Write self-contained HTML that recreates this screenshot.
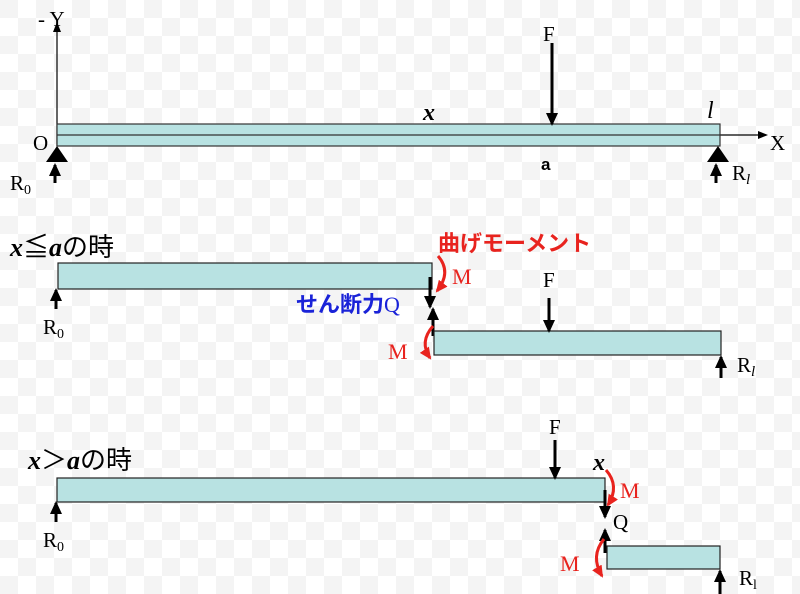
<!DOCTYPE html>
<html><head><meta charset="utf-8"><style>
html,body{margin:0;padding:0;background:#fff;}
svg{display:block}
text{font-family:"Liberation Serif","Noto Serif CJK SC",serif;}
.j{font-family:"Liberation Sans","Noto Sans CJK JP",sans-serif;font-weight:bold;}
</style></head><body>
<svg width="800" height="594" viewBox="0 0 800 594" xmlns="http://www.w3.org/2000/svg">
<defs>
<marker id="ab" markerWidth="10" markerHeight="8" refX="8" refY="4" orient="auto" markerUnits="userSpaceOnUse"><path d="M0,0 L10,4 L0,8 z" fill="#000"/></marker>
<marker id="at" markerWidth="13" markerHeight="12" refX="11" refY="6" orient="auto" markerUnits="userSpaceOnUse"><path d="M0,0 L13,6 L0,12 z" fill="#000"/></marker>
<marker id="ar" markerWidth="12" markerHeight="11" refX="10" refY="5.5" orient="auto" markerUnits="userSpaceOnUse"><path d="M0,0 L12,5.5 L0,11 z" fill="#e8231e"/></marker>
<pattern id="chk" width="36" height="36" patternUnits="userSpaceOnUse"><rect width="36" height="36" fill="#fff"/><rect width="18" height="18" fill="#f4f4f4"/><rect x="18" y="18" width="18" height="18" fill="#f4f4f4"/></pattern>
</defs>
<rect width="800" height="594" fill="url(#chk)"/>
<!-- top diagram -->
<line x1="57" y1="146" x2="57" y2="24" stroke="#000" stroke-width="1.2" marker-end="url(#ab)"/>
<line x1="720" y1="135" x2="766" y2="135" stroke="#000" stroke-width="1.2" marker-end="url(#ab)"/>
<text x="38" y="26" font-size="21">- Y</text>
<text x="770" y="150" font-size="21">X</text>
<text x="33" y="150" font-size="21">O</text>
<rect x="57" y="124" width="663" height="22" fill="#b8e2e2" stroke="#333" stroke-width="1.2"/>
<line x1="57" y1="135" x2="720" y2="135" stroke="#333" stroke-width="1.2"/>
<line x1="552" y1="43" x2="552" y2="124" stroke="#000" stroke-width="3" marker-end="url(#at)"/>
<text x="543" y="41" font-size="21">F</text>
<text x="423" y="120" font-size="24" font-style="italic" font-weight="bold">x</text>
<text x="707" y="118" font-size="24" font-style="italic">l</text>
<text x="541" y="170" font-size="17" font-weight="bold" style="font-family:'Liberation Sans',sans-serif">a</text>
<polygon points="57,146 46,162 68,162" fill="#000"/>
<polygon points="718,146 707,162 729,162" fill="#000"/>
<line x1="55" y1="183" x2="55" y2="165" stroke="#000" stroke-width="3" marker-end="url(#at)"/>
<line x1="716" y1="183" x2="716" y2="165" stroke="#000" stroke-width="3" marker-end="url(#at)"/>
<text x="10" y="190" font-size="21">R<tspan font-size="14" dy="4">0</tspan></text>
<text x="732" y="180" font-size="21">R<tspan font-size="15" dy="4" font-style="italic">l</tspan></text>
<!-- middle -->
<text x="10" y="256" font-size="26" font-style="italic" font-weight="bold">x<tspan font-style="normal" font-weight="normal" style="font-family:'Noto Sans CJK JP',sans-serif">≦</tspan>a<tspan font-style="normal" font-weight="normal" style="font-family:'Noto Sans CJK JP',sans-serif">の時</tspan></text>
<rect x="58" y="263" width="374" height="26" fill="#b8e2e2" stroke="#222" stroke-width="1.2"/>
<line x1="56" y1="309" x2="56" y2="290" stroke="#000" stroke-width="3" marker-end="url(#at)"/>
<text x="43" y="334" font-size="21">R<tspan font-size="14" dy="4">0</tspan></text>
<text x="438" y="251" font-size="22" class="j" fill="#e8231e">曲げモーメント</text>
<path d="M438,256 Q452,272 437,291" fill="none" stroke="#e8231e" stroke-width="3" marker-end="url(#ar)"/>
<text x="452" y="284" font-size="22" fill="#e8231e">M</text>
<line x1="430" y1="277" x2="430" y2="307" stroke="#000" stroke-width="3" marker-end="url(#at)"/>
<text x="296" y="312" font-size="22" class="j" fill="#1a23d8">せん断力<tspan style="font-family:'Liberation Serif',serif;font-weight:normal">Q</tspan></text>
<line x1="433" y1="336" x2="433" y2="309" stroke="#000" stroke-width="3" marker-end="url(#at)"/>
<rect x="434" y="331" width="287" height="24" fill="#b8e2e2" stroke="#222" stroke-width="1.2"/>
<path d="M433,326 Q419,342 430,358" fill="none" stroke="#e8231e" stroke-width="3" marker-end="url(#ar)"/>
<text x="388" y="359" font-size="22" fill="#e8231e">M</text>
<line x1="549" y1="298" x2="549" y2="331" stroke="#000" stroke-width="3" marker-end="url(#at)"/>
<text x="543" y="287" font-size="21">F</text>
<line x1="721" y1="378" x2="721" y2="357" stroke="#000" stroke-width="3" marker-end="url(#at)"/>
<text x="737" y="372" font-size="21">R<tspan font-size="15" dy="4" font-style="italic">l</tspan></text>
<!-- bottom -->
<text x="28" y="469" font-size="26" font-style="italic" font-weight="bold">x<tspan font-style="normal" font-weight="normal" style="font-family:'Noto Sans CJK JP',sans-serif">＞</tspan>a<tspan font-style="normal" font-weight="normal" style="font-family:'Noto Sans CJK JP',sans-serif">の時</tspan></text>
<rect x="57" y="478" width="548" height="24" fill="#b8e2e2" stroke="#222" stroke-width="1.2"/>
<line x1="555" y1="440" x2="555" y2="478" stroke="#000" stroke-width="3" marker-end="url(#at)"/>
<text x="549" y="434" font-size="21">F</text>
<text x="593" y="470" font-size="24" font-style="italic" font-weight="bold">x</text>
<path d="M606,470 Q620,486 608,505" fill="none" stroke="#e8231e" stroke-width="3" marker-end="url(#ar)"/>
<text x="620" y="498" font-size="22" fill="#e8231e">M</text>
<line x1="605" y1="490" x2="605" y2="517" stroke="#000" stroke-width="3" marker-end="url(#at)"/>
<text x="613" y="529" font-size="21">Q</text>
<line x1="605" y1="553" x2="605" y2="530" stroke="#000" stroke-width="3" marker-end="url(#at)"/>
<rect x="607" y="546" width="113" height="23" fill="#b8e2e2" stroke="#222" stroke-width="1.2"/>
<path d="M604,539 Q590,556 602,576" fill="none" stroke="#e8231e" stroke-width="3" marker-end="url(#ar)"/>
<text x="560" y="571" font-size="22" fill="#e8231e">M</text>
<line x1="56" y1="522" x2="56" y2="503" stroke="#000" stroke-width="3" marker-end="url(#at)"/>
<text x="43" y="547" font-size="21">R<tspan font-size="14" dy="4">0</tspan></text>
<line x1="720" y1="594" x2="720" y2="571" stroke="#000" stroke-width="3" marker-end="url(#at)"/>
<text x="739" y="585" font-size="21">R<tspan font-size="14" dy="4">l</tspan></text>
</svg>
</body></html>
